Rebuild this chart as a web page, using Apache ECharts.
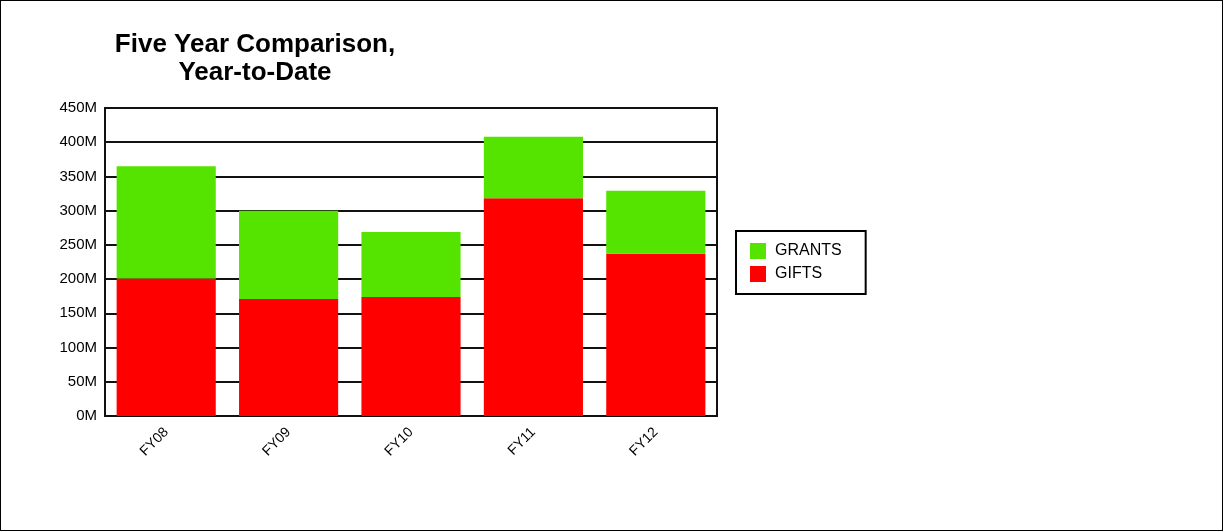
<!DOCTYPE html>
<html>
<head>
<meta charset="utf-8">
<script src="https://cdn.jsdelivr.net/npm/echarts@6/dist/echarts.min.js"></script>
<style>
  html, body { margin: 0; padding: 0; background: #fff; }
  #frame { position: absolute; left: 0; top: 0; width: 1223px; height: 531px; box-sizing: border-box; border: 1px solid #000; }
  #chart { position: absolute; left: 0; top: 0; width: 1223px; height: 531px; }
</style>
</head>
<body>
<div id="chart"></div>
<div id="frame"></div>
<script>
// values in millions
const years = ['FY08', 'FY09', 'FY10', 'FY11', 'FY12'];
const gifts = [201, 171, 174, 318, 237];
const grants = [164, 129, 95, 90, 92];

const chart = echarts.init(document.getElementById('chart'));

const option = {
    animation: false,
    textStyle: { fontFamily: 'Liberation Sans, Arial, sans-serif' },
    title: {
        text: 'Five Year Comparison,\nYear-to-Date',
        left: 250,
        top: 26,
        textAlign: 'center',
        textStyle: { fontSize: 26, fontWeight: 'bold', color: '#000', lineHeight: 28 }
    },
    legend: {
        data: ['GRANTS', 'GIFTS'],
        orient: 'vertical',
        left: 736,
        top: 231,
        padding: [12, 24, 12, 14],
        itemWidth: 16,
        itemHeight: 16,
        itemGap: 7,
        borderColor: '#000',
        borderWidth: 2,
        icon: 'rect',
        textStyle: { fontSize: 16, color: '#000', padding: [0, 0, 0, 4] }
    },
    grid: {
        left: 105, right: 506, top: 108, bottom: 115,
        show: true, borderColor: '#111', borderWidth: 2
    },
    xAxis: {
        type: 'category',
        data: years,
        axisTick: { show: false },
        axisLine: { lineStyle: { color: '#111', width: 2 } },
        axisLabel: { rotate: 45, fontSize: 14, color: '#000', margin: 14 }
    },
    yAxis: {
        type: 'value',
        min: 0, max: 450, interval: 50,
        axisLine: { show: true, lineStyle: { color: '#111', width: 2 } },
        axisTick: { show: false },
        splitLine: { lineStyle: { color: '#111', width: 2 } },
        axisLabel: { fontSize: 15, color: '#000', margin: 8, formatter: '{value}M' }
    },
    series: [
        { name: 'GIFTS', type: 'bar', stack: 'total', data: gifts, barWidth: '81%', itemStyle: { color: '#ff0000' } },
        { name: 'GRANTS', type: 'bar', stack: 'total', data: grants, barWidth: '81%', itemStyle: { color: '#55e300' } }
    ]
};

chart.setOption(option);
</script>
</body>
</html>
